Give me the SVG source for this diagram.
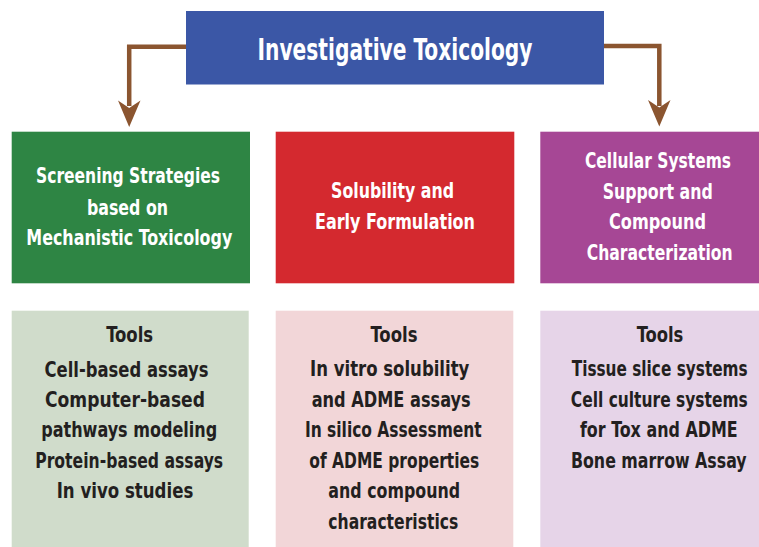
<svg xmlns="http://www.w3.org/2000/svg" width="759" height="547" viewBox="0 0 759 547">
<style>
text{font-family:"DejaVu Sans Condensed","Liberation Sans Narrow","Liberation Sans",sans-serif;font-weight:bold;text-anchor:middle}
.w{fill:#ffffff;font-size:21px}
.t{fill:#ffffff;font-size:30px}
.d{fill:#231f20;font-size:20.5px}
.conn{fill:none;stroke:#8b5530;stroke-width:4.5}
.head{fill:#8b5530}
</style>
<rect width="759" height="547" fill="#ffffff"/>
<g id="connectors">
<path class="conn" d="M186 46.7H129.2V106"/>
<polygon class="head" points="129.2,127 118,100.5 129.2,108 140.5,100.5"/>
<path class="conn" d="M603.5 46H659.3V106"/>
<polygon class="head" points="659.3,126.5 648,100 659.3,107.5 670.5,100"/>
</g>
<g id="investigative-toxicology">
<rect x="186" y="11" width="418" height="73.5" fill="#3b57a6"/>
<text class="t" x="395" y="60" textLength="275" lengthAdjust="spacingAndGlyphs">Investigative Toxicology</text>
</g>
<g id="screening-strategies">
<rect x="11.7" y="131.7" width="238.3" height="151.6" fill="#2e8544"/>
<text class="w" x="128" y="183.3" textLength="184" lengthAdjust="spacingAndGlyphs">Screening Strategies</text>
<text class="w" x="127.5" y="214.5" textLength="81" lengthAdjust="spacingAndGlyphs">based on</text>
<text class="w" x="129.3" y="245" textLength="206" lengthAdjust="spacingAndGlyphs">Mechanistic Toxicology</text>
</g>
<g id="solubility">
<rect x="275.7" y="131.7" width="238.6" height="151.6" fill="#d4292f"/>
<text class="w" x="392.5" y="198.3" textLength="123" lengthAdjust="spacingAndGlyphs">Solubility and</text>
<text class="w" x="395" y="228.5" textLength="160" lengthAdjust="spacingAndGlyphs">Early Formulation</text>
</g>
<g id="cellular-systems">
<rect x="540.3" y="131.7" width="218.7" height="151.6" fill="#a64795"/>
<text class="w" x="658" y="168.3" textLength="146" lengthAdjust="spacingAndGlyphs">Cellular Systems</text>
<text class="w" x="657.7" y="199" textLength="110" lengthAdjust="spacingAndGlyphs">Support and</text>
<text class="w" x="657.5" y="229.3" textLength="97" lengthAdjust="spacingAndGlyphs">Compound</text>
<text class="w" x="659.7" y="260" textLength="146" lengthAdjust="spacingAndGlyphs">Characterization</text>
</g>
<g id="tools-screening">
<rect x="11.7" y="310.7" width="237" height="236.3" fill="#d0dccb"/>
<text class="d" x="129.7" y="341.5" textLength="47" lengthAdjust="spacingAndGlyphs">Tools</text>
<text class="d" x="126.5" y="376.5" textLength="164" lengthAdjust="spacingAndGlyphs">Cell-based assays</text>
<text class="d" x="125" y="406.5" textLength="160" lengthAdjust="spacingAndGlyphs">Computer-based</text>
<text class="d" x="129.2" y="437" textLength="176" lengthAdjust="spacingAndGlyphs">pathways modeling</text>
<text class="d" x="129.2" y="467.5" textLength="188" lengthAdjust="spacingAndGlyphs">Protein-based assays</text>
<text class="d" x="125" y="498.3" textLength="136.7" lengthAdjust="spacingAndGlyphs">In vivo studies</text>
</g>
<g id="tools-solubility">
<rect x="275.7" y="310.7" width="237.6" height="236.3" fill="#f2d6d8"/>
<text class="d" x="394" y="341.5" textLength="47" lengthAdjust="spacingAndGlyphs">Tools</text>
<text class="d" x="389.7" y="376" textLength="159.3" lengthAdjust="spacingAndGlyphs">In vitro solubility</text>
<text class="d" x="391.2" y="406.5" textLength="159" lengthAdjust="spacingAndGlyphs">and ADME assays</text>
<text class="d" x="393.3" y="437" textLength="176.7" lengthAdjust="spacingAndGlyphs">In silico Assessment</text>
<text class="d" x="394.3" y="467.5" textLength="170" lengthAdjust="spacingAndGlyphs">of ADME properties</text>
<text class="d" x="394.2" y="497.5" textLength="131.7" lengthAdjust="spacingAndGlyphs">and compound</text>
<text class="d" x="393.3" y="528.5" textLength="130" lengthAdjust="spacingAndGlyphs">characteristics</text>
</g>
<g id="tools-cellular">
<rect x="540.3" y="310.7" width="218.7" height="236.3" fill="#e6d4e8"/>
<text class="d" x="660" y="341.5" textLength="46.7" lengthAdjust="spacingAndGlyphs">Tools</text>
<text class="d" x="659.7" y="376" textLength="176" lengthAdjust="spacingAndGlyphs">Tissue slice systems</text>
<text class="d" x="659.3" y="406.5" textLength="177" lengthAdjust="spacingAndGlyphs">Cell culture systems</text>
<text class="d" x="658.8" y="437" textLength="157.7" lengthAdjust="spacingAndGlyphs">for Tox and ADME</text>
<text class="d" x="658.8" y="467.5" textLength="175.7" lengthAdjust="spacingAndGlyphs">Bone marrow Assay</text>
</g>
</svg>
